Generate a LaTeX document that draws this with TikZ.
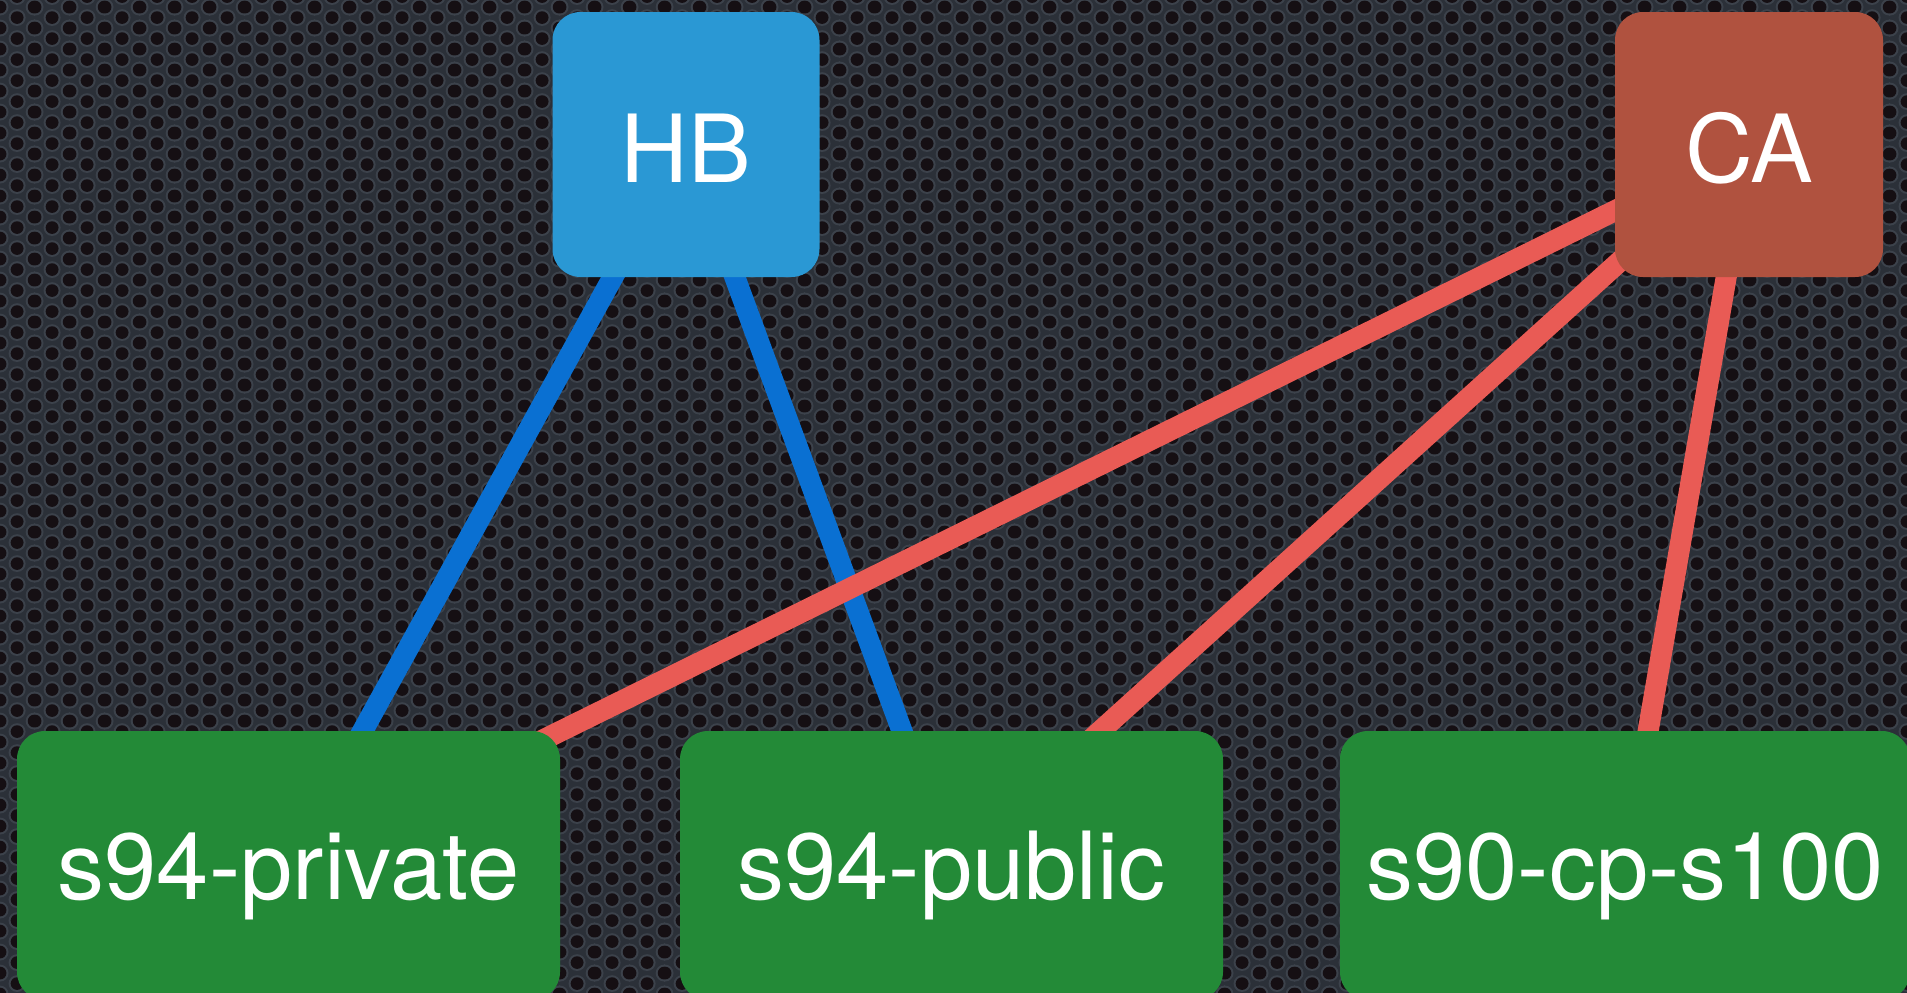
\documentclass[tikz,border=0pt]{standalone}
\usepackage{fontspec}
\setmainfont{TeX Gyre Heros}
\usetikzlibrary{patterns}
\definecolor{bgbase}{HTML}{2B3038}
\definecolor{holering}{HTML}{3C424B}
\definecolor{holedark}{HTML}{150F13}
\definecolor{hbfill}{HTML}{2A98D4}
\definecolor{cafill}{HTML}{B0523F}
\definecolor{hostfill}{HTML}{238A37}
\definecolor{bluelinkc}{HTML}{0A70D2}
\definecolor{redlinkc}{HTML}{E95B55}
\pgfdeclarepatterninherentlycolored{holes}
{\pgfpointorigin}{\pgfqpoint{34.6pt}{21.4pt}}
{\pgfqpoint{34.6pt}{21.4pt}}
{%
  \pgfsetfillcolor{bgbase}%
  \pgfpathrectangle{\pgfpointorigin}{\pgfqpoint{34.6pt}{21.4pt}}%
  \pgfusepath{fill}%
  \pgfsetfillcolor{holering}%
  \pgfpathcircle{\pgfqpoint{0pt}{0pt}}{8.6pt}%
  \pgfpathcircle{\pgfqpoint{34.6pt}{0pt}}{8.6pt}%
  \pgfpathcircle{\pgfqpoint{0pt}{21.4pt}}{8.6pt}%
  \pgfpathcircle{\pgfqpoint{34.6pt}{21.4pt}}{8.6pt}%
  \pgfpathcircle{\pgfqpoint{17.3pt}{10.7pt}}{8.6pt}%
  \pgfusepath{fill}%
  \pgfsetfillcolor{holedark}%
  \pgfpathcircle{\pgfqpoint{0pt}{0pt}}{6.5pt}%
  \pgfpathcircle{\pgfqpoint{34.6pt}{0pt}}{6.5pt}%
  \pgfpathcircle{\pgfqpoint{0pt}{21.4pt}}{6.5pt}%
  \pgfpathcircle{\pgfqpoint{34.6pt}{21.4pt}}{6.5pt}%
  \pgfpathcircle{\pgfqpoint{17.3pt}{10.7pt}}{6.5pt}%
  \pgfusepath{fill}%
}
\pgfdeclarelayer{back}
\pgfdeclarelayer{links}
\pgfsetlayers{back,links,main}
\begin{document}
\begin{tikzpicture}[x=1pt,y=-1pt,
  boxbase/.style={rectangle, rounded corners=28pt, inner sep=0pt, text=white,
    font=\fontsize{94}{100}\selectfont, text depth=0pt},
  hbbox/.style={boxbase, fill=hbfill, minimum width=267pt, minimum height=265pt,
    text height=75pt},
  cabox/.style={boxbase, fill=cafill, minimum width=268pt, minimum height=265pt,
    text height=75pt},
  hostbox/.style={boxbase, fill=hostfill, minimum height=269pt, text height=67pt},
  bluelink/.style={draw=bluelinkc, line width=21pt},
  redlink/.style={draw=redlinkc, line width=21pt}]
\useasboundingbox (0,0) rectangle (1907,993);
\begin{pgfonlayer}{back}
  \fill[bgbase] (0,0) rectangle (1907,993);
  \fill[pattern=holes] (0,0) rectangle (1907,993);
\end{pgfonlayer}
\node[hbbox] (HB) at (686,144.5) {HB};
\node[cabox] (CA) at (1749,144.5) {CA};
\node[hostbox, minimum width=543pt] (priv) at (288.5,865.5) {s94-private};
\node[hostbox, minimum width=543pt] (pub) at (951.5,865.5) {s94-public};
\node[hostbox, minimum width=570pt] (cp) at (1625,865.5) {s90-cp-s100};
\begin{pgfonlayer}{links}
  \draw[bluelink] (HB.center) -- (priv.center);
  \draw[bluelink] (HB.center) -- (pub.center);
  \draw[redlink] (CA.center) -- (priv.center);
  \draw[redlink] (CA.center) -- (pub.center);
  \draw[redlink] (CA.center) -- (cp.center);
\end{pgfonlayer}
\end{tikzpicture}
\end{document}
